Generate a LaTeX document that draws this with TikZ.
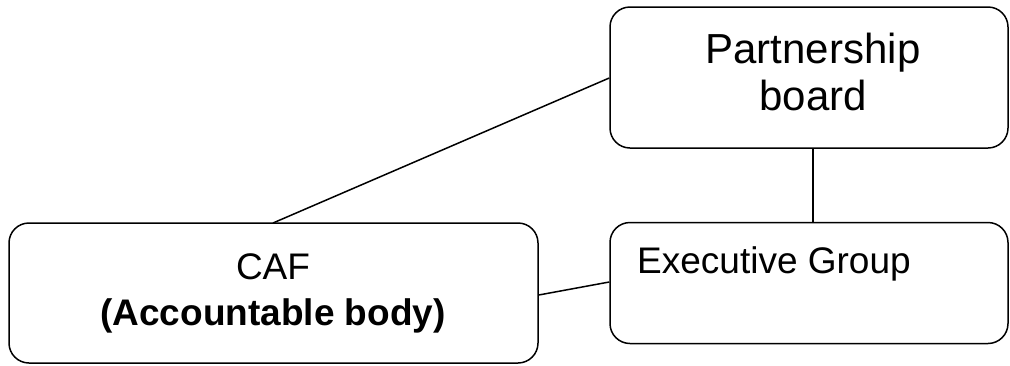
\documentclass[tikz,border=0pt]{standalone}
\usepackage{fontspec}
\setmainfont{Liberation Sans}
\begin{document}
\begin{tikzpicture}[x=1pt,y=-1pt,
  box/.style={draw=black,line width=1.5pt,rounded corners=20pt,inner sep=0pt},
  lbl/.style={inner sep=0pt,anchor=base,font=\fontsize{37}{44}\selectfont},
  conn/.style={draw=black,line width=1.5pt}]
\useasboundingbox (0,0) rectangle (1010,365);
\node[box,minimum width=398pt,minimum height=141pt] (pb) at (809,77.5) {};
\node[box,minimum width=398pt,minimum height=121pt] (eg) at (809,283) {};
\node[box,minimum width=529pt,minimum height=140pt] (caf) at (273.5,293) {};
\node[lbl,font=\fontsize{42}{48}\selectfont] (pbt1) at (813,63) {Partnership};
\node[lbl,font=\fontsize{42}{48}\selectfont] (pbt2) at (813,110) {board};
\node[lbl,anchor=base west] (egt) at (637,273) {Executive Group};
\node[lbl] (caft1) at (273,279) {CAF};
\node[lbl,font=\fontsize{37}{44}\selectfont\bfseries] (caft2) at (273,325) {(Accountable body)};
\coordinate (pbL) at (pb.west |- 0,78);
\coordinate (cafT) at (273,223);
\draw[conn] (pbL) -- (cafT);
\draw[conn] (pb.south -| 813,0) -- (eg.north -| 813,0);
\draw[conn] (caf.east |- 0,295) -- (eg.west |- 0,282);
\end{tikzpicture}
\end{document}
